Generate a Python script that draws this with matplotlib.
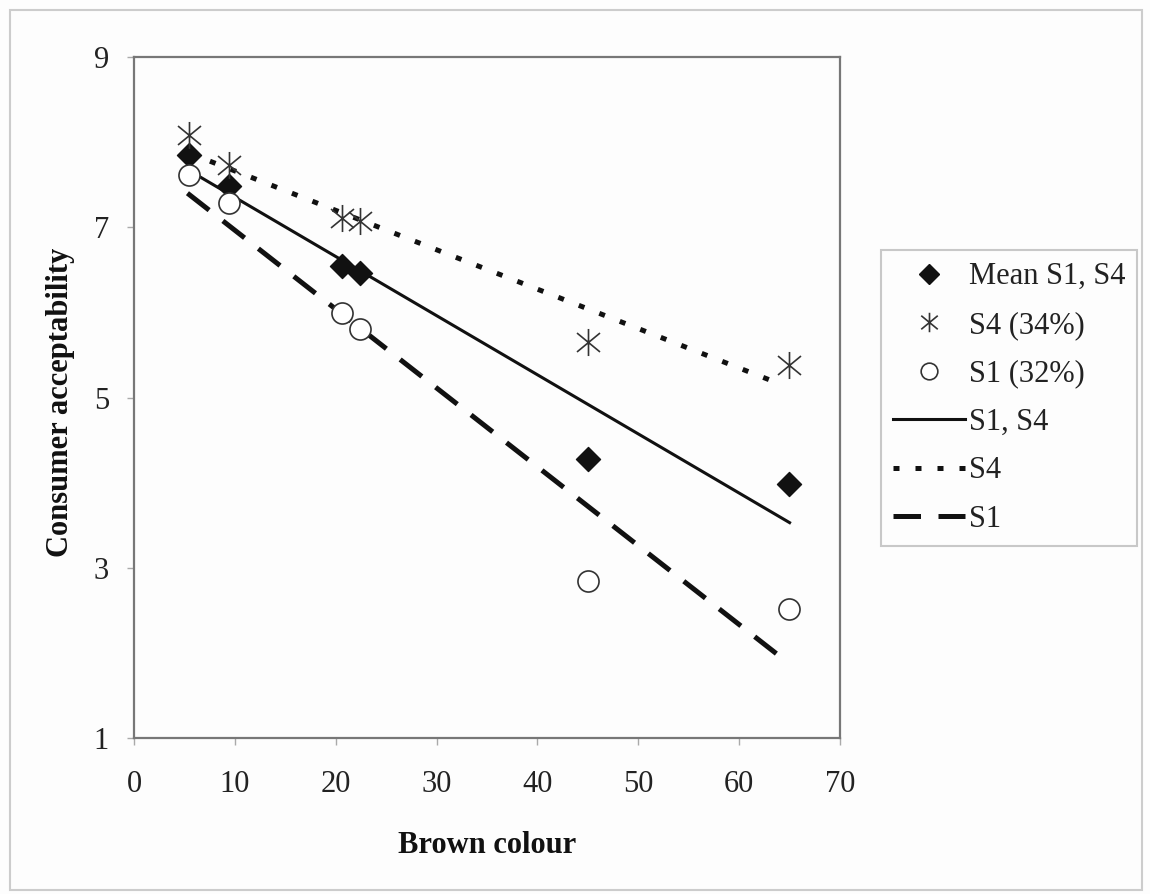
import matplotlib
matplotlib.use("Agg")
import matplotlib.pyplot as plt
from matplotlib.patches import Rectangle
from matplotlib.lines import Line2D
from matplotlib.path import Path

plt.rcParams['font.family'] = ['Liberation Serif', 'DejaVu Serif']

# Brown colour scores of the six samples
brown = [5.5, 9.4, 20.6, 22.4, 45.0, 64.9]

# Consumer acceptability by segment
mean_s1_s4 = [7.85, 7.49, 6.55, 6.46, 4.28, 3.98]
s4_34 = [8.08, 7.73, 7.11, 7.07, 5.65, 5.38]
s1_32 = [7.61, 7.29, 5.99, 5.81, 2.85, 2.52]

# Regression lines (start / end points)
fit_s1_s4_x = [5.7, 65.0]
fit_s1_s4_y = [7.65, 3.53]
fit_s4_x = [5.5, 63.6]
fit_s4_y = [7.87, 5.18]
fit_s1_x = [5.3, 65.0]
fit_s1_y = [7.40, 1.87]

x_ticks = [0, 10, 20, 30, 40, 50, 60, 70]
y_ticks = [1, 3, 5, 7, 9]

# star marker: a cross of two diagonals plus a vertical stroke
star = Path([(0, -1), (0, 1), (-0.85, -0.7), (0.85, 0.7), (-0.85, 0.7), (0.85, -0.7)],
            [Path.MOVETO, Path.LINETO, Path.MOVETO, Path.LINETO, Path.MOVETO, Path.LINETO])

fig = plt.figure(figsize=(11.5, 8.94), dpi=100)
fig.patch.set_facecolor('#fdfdfd')

# light frame around the chart area
fig.add_artist(Rectangle((10 / 1150, 1 - 890 / 894), 1132 / 1150, 880 / 894,
                         transform=fig.transFigure, fill=False,
                         edgecolor='#cccccc', linewidth=1.5))

ax = fig.add_axes([134 / 1150, 1 - 738 / 894, 706 / 1150, 681 / 894])
ax.set_facecolor('#fdfdfd')

ax.plot(fit_s1_s4_x, fit_s1_s4_y, '-', color='#111111', linewidth=2.2, label='S1, S4')
ax.plot(fit_s4_x, fit_s4_y, linestyle=(0, (1.2, 3.2)), color='#111111',
        linewidth=3.6, dash_capstyle='butt', label='S4')
ax.plot(fit_s1_x, fit_s1_y, linestyle=(0, (5.5, 3.5)), color='#111111',
        linewidth=3.6, dash_capstyle='butt', label='S1')

ax.scatter(brown, mean_s1_s4, marker='D', s=150, color='#111111', zorder=4,
           label='Mean S1, S4')
ax.scatter(brown, s4_34, marker=star, s=380, color='#333333', linewidths=1.2,
           zorder=4, label='S4 (34%)')
ax.scatter(brown, s1_32, marker='o', s=230, facecolors='white', edgecolors='#333333',
           linewidths=1.2, zorder=5, label='S1 (32%)')

ax.set_xlim(0, 70)
ax.set_ylim(1, 9)
ax.set_xticks(x_ticks)
ax.set_yticks(y_ticks)
ax.tick_params(axis='both', direction='out', length=5, width=1, color='#aaaaaa',
               labelsize=22, labelcolor='#222222')
ax.tick_params(axis='x', pad=18)
ax.tick_params(axis='y', pad=13)
for sp in ax.spines.values():
    sp.set_color('#777777')
    sp.set_linewidth(1.6)

ax.set_xlabel('Brown colour', fontsize=22, fontweight='bold', color='#111111')
ax.set_ylabel('Consumer acceptability', fontsize=22, fontweight='bold', color='#111111')
ax.xaxis.set_label_coords(0.5, -0.137)
ax.yaxis.set_label_coords(-0.084, 0.493)

handles, labels = ax.get_legend_handles_labels()
order = ['Mean S1, S4', 'S4 (34%)', 'S1 (32%)', 'S1, S4', 'S4', 'S1']
hmap = dict(zip(labels, handles))
# compact legend marker handles
leg_handles = [
    Line2D([], [], marker='D', color='#111111', linestyle='none', markersize=10),
    Line2D([], [], marker=star, color='#333333', linestyle='none', markersize=14,
           markeredgewidth=1.2),
    Line2D([], [], marker='o', markerfacecolor='white', markeredgecolor='#333333',
           linestyle='none', markersize=12, markeredgewidth=1.2),
    hmap['S1, S4'], hmap['S4'], hmap['S1'],
]
leg = fig.legend(leg_handles, order, loc='upper left',
                 bbox_to_anchor=(881 / 1150, 1 - 250 / 894),
                 frameon=True, fancybox=False, fontsize=22, handlelength=2.35,
                 handletextpad=0.12, labelspacing=0.64, borderpad=0.4,
                 borderaxespad=0)
leg.get_frame().set_edgecolor('#bbbbbb')
leg.get_frame().set_linewidth(1.5)
leg.get_frame().set_facecolor('#fdfdfd')
for t in leg.get_texts():
    t.set_color('#222222')

fig.savefig('out.png', dpi=100, facecolor=fig.get_facecolor())
